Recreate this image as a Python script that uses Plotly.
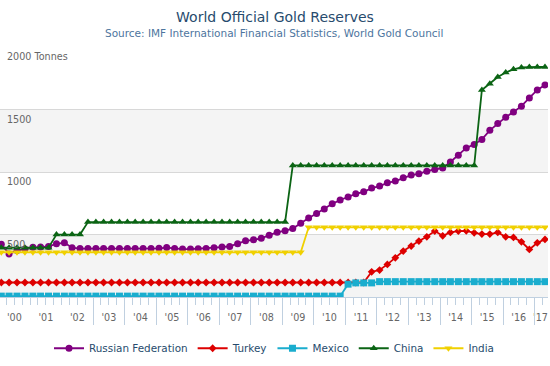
import pandas as pd
import plotly.graph_objects as go

# Quarterly observations, Feb 2000 .. May 2017
dates = pd.date_range(start="2000-02-01", periods=70, freq="3MS")

russia = ([422, 345, 372, 384, 398, 400, 405, 426, 434, 395, 388]
          + [388] * 9
          + [390, 396, 388, 384, 384, 387, 388, 395, 400, 405, 426, 450, 458, 470,
             495, 518, 531, 548, 590, 633, 668, 705, 746, 777, 800, 826, 842, 872,
             888, 914, 928, 954, 976, 986, 1008, 1021, 1033, 1081, 1136, 1194, 1222,
             1262, 1335, 1390, 1440, 1481, 1528, 1594, 1658, 1698])
turkey = ([116] * 47
          + [202, 216, 261, 314, 368, 408, 448, 482, 528, 490, 517, 528, 530, 514,
             504, 504, 517, 482, 477, 442, 381, 434, 461])
mexico = [7] * 44 + [103, 113, 113, 113] + [123] * 22
china = ([395] * 7 + [500] * 4 + [600] * 26 + [1054] * 24
         + [1658, 1708, 1762, 1798, 1823, 1838, 1842, 1842, 1842])
india = [358] * 39 + [558] * 31

series_names = ["Russian Federation", "Turkey", "Mexico", "China", "India"]
series_values = [russia, turkey, mexico, china, india]
series_colors = ["#800080", "#DD0000", "#1AADCE", "#0B6414", "#F0D000"]
series_symbols = ["circle", "diamond", "square", "triangle-up", "triangle-down"]
series_sizes = [7, 6, 7, 7, 7]

year_labels = ["'00", "'01", "'02", "'03", "'04", "'05", "'06", "'07", "'08",
               "'09", "'10", "'11", "'12", "'13", "'14", "'15", "'16", "'17"]
label_pos = [f"{2000 + k}-07-01" for k in range(17)] + ["2017-03-10"]
year_starts = [f"{2000 + k}-01-01" for k in range(18)]

y_ticks = [0, 500, 1000, 1500, 2000]
y_text = ["", "500", "1000", "1500", "2000 Tonnes"]

X_RANGE = ["2000-01-17", "2017-06-05"]
Y_RANGE = [0, 2002]
FONT = "DejaVu Sans"

fig = go.Figure()
for name, vals, col, sym, sz in zip(series_names, series_values, series_colors,
                                     series_symbols, series_sizes):
    fig.add_trace(go.Scatter(
        x=dates, y=vals, name=name, mode="lines+markers",
        line=dict(color=col, width=1.8),
        marker=dict(symbol=sym, size=sz, color=col),
    ))

# empty helper trace so that the overlay axes (year ticks, y labels) are drawn
fig.add_trace(go.Scatter(x=[], y=[], xaxis="x2", yaxis="y2", showlegend=False,
                         hoverinfo="skip"))

# alternate bands
for y0, y1 in [(0, 500), (1000, 1500)]:
    fig.add_shape(type="rect", xref="paper", x0=0, x1=1, yref="y", y0=y0, y1=y1,
                  fillcolor="#F4F4F4", line=dict(width=0), layer="below")

fig.update_layout(
    width=550, height=366,
    margin=dict(l=0, r=2, t=47, b=69, autoexpand=False),
    paper_bgcolor="white", plot_bgcolor="white",
    hovermode=False,
    font=dict(family=FONT, color="#666666"),
    title=dict(text="World Official Gold Reserves", x=0.5, xanchor="center",
               y=1 - 17 / 366, yanchor="middle", yref="container",
               font=dict(family=FONT, size=14, color="#274B6D")),
    annotations=[dict(text="Source: IMF International Financial Statistics, World Gold Council",
                      xref="paper", yref="paper", x=0.5, y=1 + 14 / 250,
                      xanchor="center", yanchor="middle", showarrow=False,
                      font=dict(family=FONT, size=10.5, color="#4D759E"))],
    showlegend=True,
    legend=dict(orientation="h", x=0.5, xanchor="center", y=-0.205, yanchor="middle",
                font=dict(family=FONT, size=10.4, color="#274B6D"),
                itemwidth=30, tracegroupgap=0, bgcolor="rgba(0,0,0,0)"),
    xaxis=dict(
        type="date", range=X_RANGE, autorange=False, automargin=False,
        tickmode="array", tickvals=label_pos, ticktext=year_labels,
        ticks="", showgrid=False, zeroline=False,
        tickfont=dict(family=FONT, size=9.6, color="#666666"),
        ticklabelstandoff=11,
        showline=True, linecolor="#C0D0E0", linewidth=1,
        minor=dict(ticks="outside", ticklen=7, tickcolor="#C0D0E0", tickwidth=1,
                   dtick="M3", tick0="2000-01-01", showgrid=False),
    ),
    xaxis2=dict(
        type="date", overlaying="x", anchor="y2", range=X_RANGE, autorange=False,
        automargin=False,
        tickmode="array", tickvals=year_starts, ticks="outside", ticklen=27,
        tickcolor="#C0D0E0", tickwidth=1, showticklabels=False, showgrid=False,
        zeroline=False, showline=False,
    ),
    yaxis=dict(
        range=Y_RANGE, autorange=False, automargin=False,
        tickmode="array", tickvals=y_ticks,
        showgrid=True, gridcolor="#D8D8D8", gridwidth=1, zeroline=False,
        ticks="", showticklabels=False,
    ),
    yaxis2=dict(
        overlaying="y", anchor="x2", side="left", range=Y_RANGE, autorange=False,
        automargin=False,
        tickmode="array", tickvals=y_ticks, ticktext=y_text,
        showgrid=False, zeroline=False, showline=False,
        ticks="", ticklabelposition="inside bottom",
        tickfont=dict(family=FONT, size=9.6, color="#666666"),
        ticklabelstandoff=4, ticklabelshift=3,
    ),
)

fig.write_html("out.html", config={"displayModeBar": False},
               post_script="document.body.style.margin='0';")
